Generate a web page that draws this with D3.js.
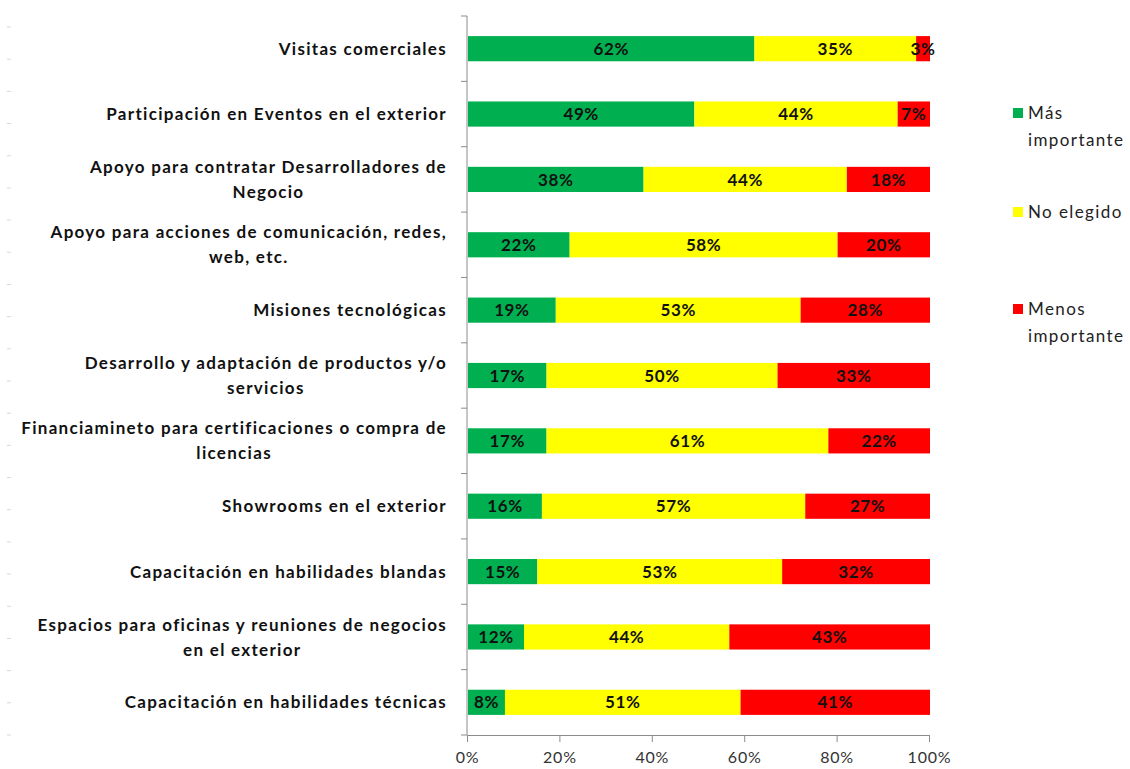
<!DOCTYPE html>
<html>
<head>
<meta charset="utf-8">
<script src="https://cdn.jsdelivr.net/npm/d3@7"></script>
<style>
  body { margin: 0; background: #fff; }
  svg { display: block; font-family: Lato, "Open Sans", sans-serif; }
</style>
</head>
<body>
<svg id="chart"></svg>
<script>
// categorias (cada una con sus lineas de texto)
var categories = [
  ["Visitas comerciales"],
  ["Participación en Eventos en el exterior"],
  ["Apoyo para contratar Desarrolladores de", "Negocio"],
  ["Apoyo para acciones de comunicación, redes,", "web, etc."],
  ["Misiones tecnológicas"],
  ["Desarrollo y adaptación de productos y/o", "servicios"],
  ["Financiamineto para certificaciones o compra de", "licencias"],
  ["Showrooms en el exterior"],
  ["Capacitación en habilidades blandas"],
  ["Espacios para oficinas y reuniones de negocios", "en el exterior"],
  ["Capacitación en habilidades técnicas"]
];

var masImportante   = [62, 49, 38, 22, 19, 17, 17, 16, 15, 12, 8];
var noElegido       = [35, 44, 44, 58, 53, 50, 61, 57, 53, 44, 51];
var menosImportante = [3, 7, 18, 20, 28, 33, 22, 27, 32, 43, 41];

var seriesNames  = ["Más importante", "No elegido", "Menos importante"];
var legendLines  = [["Más", "importante"], ["No elegido"], ["Menos", "importante"]];
var seriesColors = ["#00B050", "#FFFF00", "#FF0000"];
var xTicks = [0, 0.2, 0.4, 0.6, 0.8, 1];

// tamaño
var size = { width: 1130, height: 769 };
var margin = { top: 16, left: 467, right: 201, bottom: 34 };
var width = size.width - margin.left - margin.right;
var height = size.height - margin.top - margin.bottom;

var rows = categories.map(function(c, i) {
  return { key: i, a: masImportante[i], b: noElegido[i], c: menosImportante[i] };
});

var stack = d3.stack()
  .keys(["a", "b", "c"])
  .offset(d3.stackOffsetExpand);
var stacked = stack(rows);

var x = d3.scaleLinear().domain([0, 1]).range([0, width]);
var y = d3.scaleBand().domain(d3.range(categories.length)).range([0, height]);
var barH = y.bandwidth() * 0.385;

var svg = d3.select("#chart")
  .attr("width", size.width)
  .attr("height", size.height);

// marcas grises del borde izquierdo
var leftY = d3.scaleLinear().domain([0, 22]).range([27, 735]);
svg.append("g")
  .selectAll("line")
  .data(d3.range(23))
  .enter()
  .append("line")
  .attr("x1", 7).attr("x2", 11)
  .attr("y1", function(d){ return leftY(d); })
  .attr("y2", function(d){ return leftY(d); })
  .attr("stroke", "#d9d9d9")
  .attr("stroke-width", 1);

var g = svg.append("g")
  .attr("transform", "translate(" + margin.left + "," + margin.top + ")");

// barras
var layer = g.selectAll("g.layer")
  .data(stacked)
  .enter()
  .append("g")
  .attr("class", "layer")
  .attr("fill", function(d, i){ return seriesColors[i]; });

layer.selectAll("rect")
  .data(function(d){ return d; })
  .enter()
  .append("rect")
  .attr("x", function(d){ return x(d[0]) + 1; })
  .attr("y", function(d, i){ return y(i) + (y.bandwidth() - barH) / 2; })
  .attr("width", function(d){ return Math.max(0, x(d[1]) - x(d[0])); })
  .attr("height", barH);

// etiquetas de valor
var values = [masImportante, noElegido, menosImportante];
layer.selectAll("text")
  .data(function(d){ return d; })
  .enter()
  .append("text")
  .attr("x", function(d){ return x((d[0] + d[1]) / 2) + 1; })
  .attr("y", function(d, i){ return y(i) + y.bandwidth() / 2; })
  .attr("dy", "0.36em")
  .attr("text-anchor", "middle")
  .attr("fill", "#111")
  .attr("font-size", "17px")
  .attr("letter-spacing", "0.6px")
  .attr("font-weight", "bold")
  .text(function(d, i){
    var s = stacked.indexOf(d3.select(this.parentNode).datum());
    return values[s][i] + "%";
  });

// eje y
var axisColor = "#8c8c8c";
g.append("line")
  .attr("x1", 0).attr("x2", 0)
  .attr("y1", 0).attr("y2", height)
  .attr("stroke", axisColor);

g.selectAll("line.ytick")
  .data(d3.range(categories.length + 1))
  .enter()
  .append("line")
  .attr("class", "ytick")
  .attr("x1", -6).attr("x2", 0)
  .attr("y1", function(d){ return d * y.step(); })
  .attr("y2", function(d){ return d * y.step(); })
  .attr("stroke", axisColor);

// etiquetas de categorias
var labelX = -20;
categories.forEach(function(lines, i) {
  var cy = y(i) + y.bandwidth() / 2;
  var lh = 25;
  var top = cy - (lines.length - 1) * lh / 2;
  var first = g.append("text")
    .attr("x", labelX)
    .attr("y", top)
    .attr("dy", "0.36em")
    .attr("text-anchor", "end")
    .attr("font-size", "17px")
    .attr("letter-spacing", "1.3px")
    .attr("font-weight", "bold")
    .attr("fill", "#111")
    .text(lines[0]);
  if (lines.length > 1) {
    var w = first.node().getComputedTextLength();
    g.append("text")
      .attr("x", labelX - w / 2)
      .attr("y", top + lh)
      .attr("dy", "0.36em")
      .attr("text-anchor", "middle")
      .attr("font-size", "17px")
      .attr("letter-spacing", "1.3px")
      .attr("font-weight", "bold")
      .attr("fill", "#111")
      .text(lines[1]);
  }
});

// eje x
var xAxis = d3.axisBottom(x)
  .tickValues(xTicks)
  .tickSizeInner(7)
  .tickSizeOuter(0)
  .tickPadding(10)
  .tickFormat(d3.format(".0%"));

var xg = g.append("g")
  .attr("transform", "translate(0," + height + ")")
  .call(xAxis);
xg.select(".domain").attr("stroke", axisColor);
xg.selectAll(".tick line").attr("stroke", axisColor);
xg.selectAll(".tick text")
  .attr("fill", "#333")
  .attr("font-size", "16px")
  .attr("letter-spacing", "0.8px")
  .attr("font-family", "Lato, 'Open Sans', sans-serif");

// leyenda
var legendY = [113, 212, 309];
var legend = svg.append("g");
seriesNames.forEach(function(name, i) {
  var ly = legendY[i];
  legend.append("rect")
    .attr("x", 1013)
    .attr("y", ly - 5)
    .attr("width", 10)
    .attr("height", 10)
    .attr("fill", seriesColors[i]);
  legendLines[i].forEach(function(t, j) {
    legend.append("text")
      .attr("x", 1028)
      .attr("y", ly + j * 27)
      .attr("dy", "0.36em")
      .attr("font-size", "17px")
      .attr("letter-spacing", "1.4px")
      .attr("fill", "#222")
      .text(t);
  });
});
</script>
</body>
</html>
